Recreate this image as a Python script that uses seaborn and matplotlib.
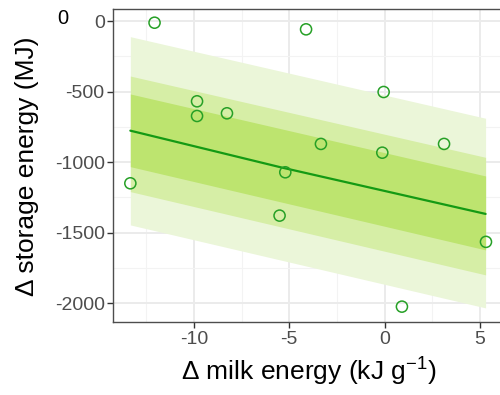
import numpy as np
import pandas as pd
import matplotlib
matplotlib.use("Agg")
import matplotlib.pyplot as plt
import seaborn as sns

# observed points
milk_energy = [-12.07, -4.12, -9.84, -9.84, -8.27, -0.05, -3.34, 3.12, -0.12, -5.21, -13.34, -5.51, 5.32, 0.91]
storage_energy = [-12, -59, -569, -673, -654, -503, -871, -871, -933, -1072, -1150, -1379, -1565, -2024]

# fitted line and interval edges read at the ends of the data range
fit_x = [-13.34, -5.47, 5.3]
fit_mid = [-777, -1036, -1367]
band_x = [-13.34, 5.3]
outer_lo = [-1445, -2033]
outer_hi = [-111, -689]
middle_lo = [-1209, -1799]
middle_hi = [-390, -966]
inner_lo = [-1032, -1622]
inner_hi = [-517, -1098]

x_ticks = [-10, -5, 0, 5]
y_ticks = [0, -500, -1000, -1500, -2000]

sns.set_theme(style="whitegrid")
plt.rcParams['font.family'] = ['Liberation Sans', 'DejaVu Sans']
plt.rcParams['axes.unicode_minus'] = False
plt.rcParams['mathtext.fontset'] = 'custom'
plt.rcParams['mathtext.rm'] = 'Liberation Sans'
plt.rcParams['mathtext.it'] = 'Liberation Sans'

points = pd.DataFrame({'milk': milk_energy, 'storage': storage_energy})
fit = pd.DataFrame({'milk': fit_x, 'storage': fit_mid})

fig = plt.figure(figsize=(5.0, 3.95), dpi=100)
ax = fig.add_axes([113 / 500, (395 - 322.3) / 395, 390.7 / 500, 313 / 395])
ax.set_facecolor('white')

# prediction bands, widest first
ax.fill_between(band_x, outer_lo, outer_hi, color='#ebf6d9', lw=0, zorder=1)
ax.fill_between(band_x, middle_lo, middle_hi, color='#d6eea6', lw=0, zorder=1)
ax.fill_between(band_x, inner_lo, inner_hi, color='#bde46f', lw=0, zorder=1)

sns.lineplot(data=fit, x='milk', y='storage', color='#149a14', lw=1.6, ax=ax, zorder=3)
sns.scatterplot(data=points, x='milk', y='storage', s=64, facecolor='none',
                edgecolor='#26a026', linewidth=1.1, ax=ax, zorder=4)

ax.set_xlim(-14.25, 6.25)
ax.set_ylim(-2135, 83)
ax.set_xticks(x_ticks)
ax.set_yticks(y_ticks)
ax.set_xticks([-12.5, -7.5, -2.5, 2.5], minor=True)
ax.set_yticks([-250, -750, -1250, -1750], minor=True)
ax.grid(which='major', color='#ebebeb', lw=1.4, zorder=0)
ax.grid(which='minor', color='#f3f3f3', lw=0.8, zorder=0)
ax.set_axisbelow(True)

ax.tick_params(axis='both', which='major', labelsize=14, labelcolor='#4d4d4d',
               length=4, width=1, color='#333333', pad=2, bottom=True, left=True)
ax.tick_params(which='minor', length=0)
for side in ['left', 'bottom', 'top', 'right']:
    ax.spines[side].set_color('#4d4d4d')
    ax.spines[side].set_linewidth(1.0)

ax.set_xlabel('Δ milk energy (kJ g$^{-1}$)', fontsize=19, color='black', labelpad=6)
ax.set_ylabel('Δ storage energy (MJ)', fontsize=19, color='black', labelpad=11)

fig.text(63 / 500, 1 - 18 / 395, '0', fontsize=14.5, color='black', ha='center', va='center')

fig.savefig('out.png', dpi=100)
